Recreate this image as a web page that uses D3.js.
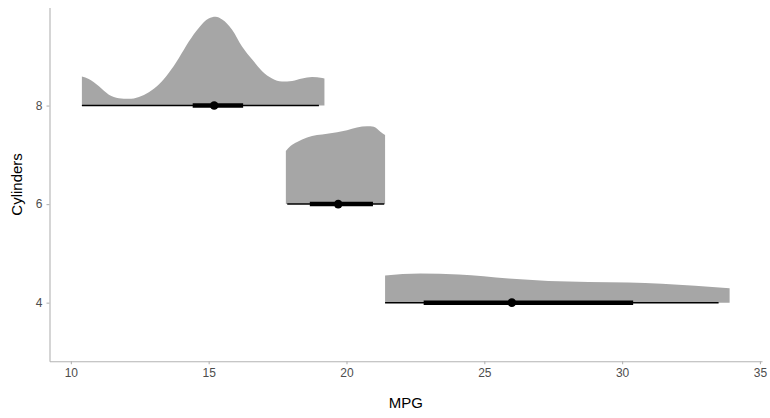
<!DOCTYPE html>
<html>
<head>
<meta charset="utf-8">
<script src="https://cdn.jsdelivr.net/npm/d3@7"></script>
<style>
  body { margin: 0; background: #fff; }
  svg { display: block; font-family: Arial, "Liberation Sans", sans-serif; }
</style>
</head>
<body>
<svg id="chart" viewBox="0 0 770 418" width="770" height="418"></svg>
<script>
// groups (cylinders) and their intervals
const cylinders = [8, 6, 4];
const medians = [15.2, 19.7, 26.0];
const lo66 = [14.42, 18.67, 22.8];
const hi66 = [16.25, 20.96, 30.4];
const lo95 = [10.4, 17.85, 21.4];
const hi95 = [19.0, 21.37, 33.5];

// slab (density) outlines: mpg positions and heights in cylinder units
const mpg8 = [10.4, 10.65, 11.02, 11.38, 11.74, 12.1, 12.47, 12.83, 13.19, 13.55, 13.92, 14.28, 14.64, 15.0, 15.25, 15.49, 15.85, 16.21, 16.58, 16.94, 17.3, 17.66, 18.03, 18.39, 18.75, 19.12, 19.2];
const dens8 = [0.59, 0.54, 0.39, 0.22, 0.15, 0.136, 0.176, 0.27, 0.426, 0.66, 0.967, 1.3, 1.576, 1.765, 1.8, 1.744, 1.54, 1.2, 0.933, 0.696, 0.548, 0.487, 0.5, 0.548, 0.58, 0.56, 0.55];
const mpg6 = [17.8, 17.97, 18.21, 18.57, 18.93, 19.3, 19.66, 20.02, 20.38, 20.75, 20.99, 21.23, 21.4];
const dens6 = [1.08, 1.18, 1.26, 1.35, 1.4, 1.43, 1.46, 1.5, 1.556, 1.58, 1.57, 1.47, 1.4];
const mpg4 = [21.4, 22.68, 24.07, 25.88, 27.33, 28.78, 30.23, 31.44, 32.65, 33.9];
const dens4 = [0.55, 0.59, 0.57, 0.49, 0.44, 0.42, 0.41, 0.385, 0.345, 0.29];

const xTicks = [10, 15, 20, 25, 30, 35];
const yTicks = [4, 6, 8];

const slabs = [
  { cyl: 8, mpg: mpg8, dens: dens8 },
  { cyl: 6, mpg: mpg6, dens: dens6 },
  { cyl: 4, mpg: mpg4, dens: dens4 }
];

const svg = d3.select("#chart");
const axisCol = "#b3b3b3";
const textCol = "#4d4d4d";

const xScale = d3.scaleLinear().domain([9.225, 35.075]).range([49.5, 762]);
const yScale = d3.scaleLinear().domain([2.81, 9.99]).range([361.3, 7.5]);

const plot = svg.append("g").attr("class", "chart_elements");

// slabs
const area = d3
  .area()
  .x((d) => xScale(d[0]))
  .y0((d) => yScale(d[2]))
  .y1((d) => yScale(d[2] + d[1]))
  .curve(d3.curveMonotoneX);

plot
  .selectAll("path.slab")
  .data(slabs)
  .enter()
  .append("path")
  .attr("class", "slab")
  .attr("fill", "#a6a6a6")
  .attr("d", (s) => area(s.mpg.map((m, i) => [m, s.dens[i], s.cyl])));

// intervals
const intervals = cylinders.map((c, i) => ({
  cyl: c,
  med: medians[i],
  lo66: lo66[i],
  hi66: hi66[i],
  lo95: lo95[i],
  hi95: hi95[i]
}));

const iv = plot.selectAll("g.interval").data(intervals).enter().append("g");

iv.append("line")
  .attr("x1", (d) => xScale(d.lo95))
  .attr("x2", (d) => xScale(d.hi95))
  .attr("y1", (d) => yScale(d.cyl))
  .attr("y2", (d) => yScale(d.cyl))
  .attr("stroke", "#000")
  .attr("stroke-width", 1.5);

iv.append("line")
  .attr("x1", (d) => xScale(d.lo66))
  .attr("x2", (d) => xScale(d.hi66))
  .attr("y1", (d) => yScale(d.cyl))
  .attr("y2", (d) => yScale(d.cyl))
  .attr("stroke", "#000")
  .attr("stroke-width", 4.5);

iv.append("circle")
  .attr("cx", (d) => xScale(d.med))
  .attr("cy", (d) => yScale(d.cyl))
  .attr("r", 4.3)
  .attr("fill", "#000");

// axes
const xAxisG = svg
  .append("g")
  .attr("transform", `translate(0 ${yScale.range()[0]})`)
  .call(d3.axisBottom(xScale).tickValues(xTicks).tickSize(3).tickPadding(4).tickSizeOuter(0));

const yAxisG = svg
  .append("g")
  .attr("transform", `translate(${xScale.range()[0]} 0)`)
  .call(d3.axisLeft(yScale).tickValues(yTicks).tickSize(3).tickPadding(4).tickSizeOuter(0));

[xAxisG, yAxisG].forEach((g) => {
  g.select("path.domain").attr("stroke", axisCol).attr("stroke-width", 1.1);
  g.selectAll("line").attr("stroke", axisCol).attr("stroke-width", 1.1);
  g.selectAll("text").attr("fill", textCol).style("font-size", "12px").style("font-family", "Arial, 'Liberation Sans', sans-serif");
});

svg
  .append("text")
  .attr("x", (xScale.range()[0] + xScale.range()[1]) / 2)
  .attr("y", 408)
  .attr("text-anchor", "middle")
  .style("font-size", "15px")
  .attr("fill", "#000")
  .text("MPG");

svg
  .append("text")
  .attr("transform", `translate(22 ${(yScale.range()[0] + yScale.range()[1]) / 2}) rotate(-90)`)
  .attr("text-anchor", "middle")
  .style("font-size", "15px")
  .attr("fill", "#000")
  .text("Cylinders");
</script>
</body>
</html>
